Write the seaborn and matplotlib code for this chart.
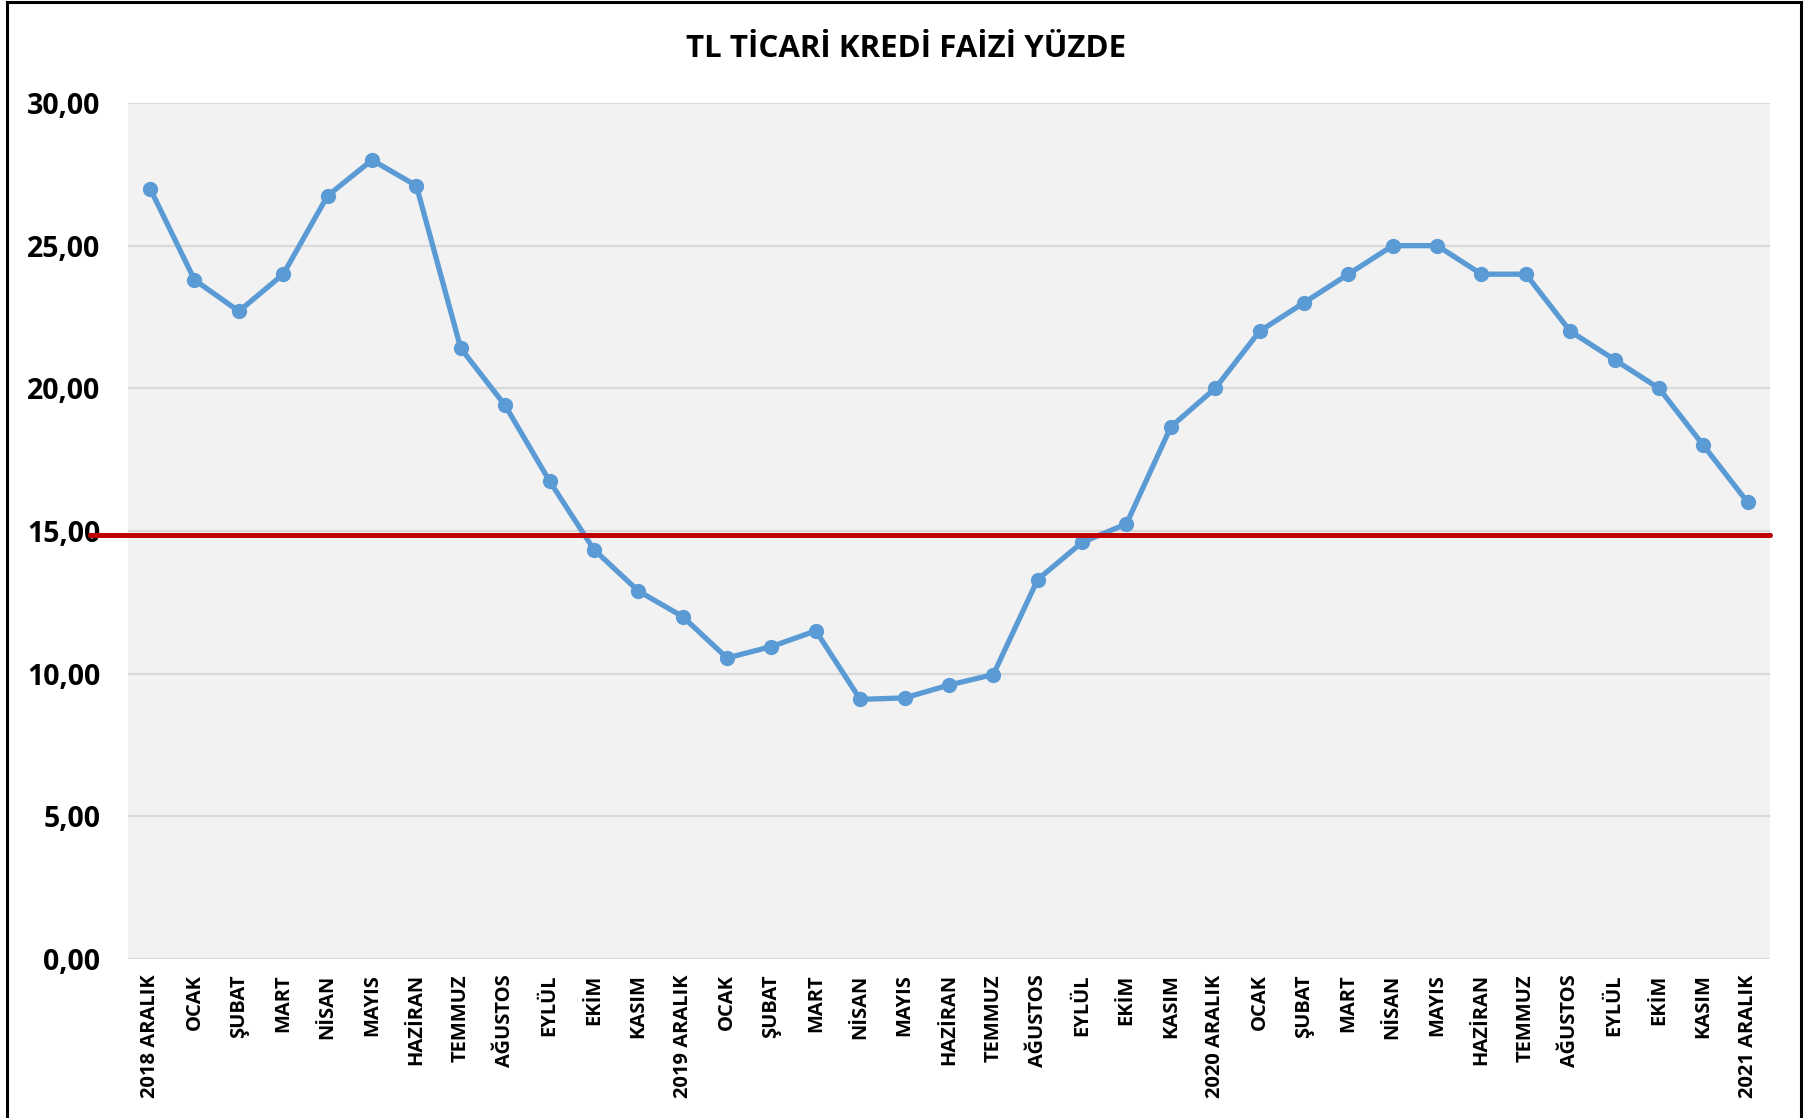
import numpy as np
import pandas as pd
import matplotlib
matplotlib.use("Agg")
import matplotlib.pyplot as plt
import matplotlib.ticker as mticker
from matplotlib.patches import Rectangle
import seaborn as sns

# Veriler
months = ["2018 ARALIK", "OCAK", "ŞUBAT", "MART", "NİSAN", "MAYIS", "HAZİRAN", "TEMMUZ",
          "AĞUSTOS", "EYLÜL", "EKİM", "KASIM",
          "2019 ARALIK", "OCAK", "ŞUBAT", "MART", "NİSAN", "MAYIS", "HAZİRAN", "TEMMUZ",
          "AĞUSTOS", "EYLÜL", "EKİM", "KASIM",
          "2020 ARALIK", "OCAK", "ŞUBAT", "MART", "NİSAN", "MAYIS", "HAZİRAN", "TEMMUZ",
          "AĞUSTOS", "EYLÜL", "EKİM", "KASIM",
          "2021 ARALIK"]
rates = [27.0, 23.8, 22.7, 24.0, 26.75, 28.0, 27.1, 21.4, 19.4, 16.75, 14.35, 12.9,
         12.0, 10.55, 10.95, 11.5, 9.1, 9.15, 9.6, 9.97, 13.3, 14.6, 15.25, 18.65,
         20.0, 22.0, 23.0, 24.0, 25.0, 25.0, 24.0, 24.0, 22.0, 21.0, 20.0, 18.0,
         16.0]
ref_level = 14.87
y_ticks = [0, 5, 10, 15, 20, 25, 30]

df = pd.DataFrame({"pos": np.arange(len(months)), "rate": rates})

sns.set_style("white")
plt.rcParams["font.family"] = ["Open Sans", "DejaVu Sans"]
plt.rcParams["text.color"] = "black"
plt.rcParams["xtick.color"] = "black"
plt.rcParams["ytick.color"] = "black"

fig = plt.figure(figsize=(18.12, 11.18), dpi=100)
ax = fig.add_axes([0.0706, 0.1422, 0.9062, 0.7657])
ax.set_facecolor("#F2F2F2")

# Izgara
for t in y_ticks:
    ax.axhline(t, color="#D9D9D9", lw=1.6, zorder=1)

sns.lineplot(data=df, x="pos", y="rate", ax=ax, color="#5B9BD5", lw=3.8,
             marker="o", markersize=11, markeredgewidth=0, zorder=3)

# Kırmızı referans çizgisi
ax.axhline(ref_level, xmin=-0.023, xmax=1.0, color="#C00000", lw=3.6,
           clip_on=False, zorder=4)

ax.set_xlim(-0.5, len(months) - 0.5)
ax.set_ylim(0, 30)
ax.set_yticks(y_ticks)
ax.yaxis.set_major_formatter(mticker.FuncFormatter(lambda v, p: f"{v:.2f}".replace(".", ",")))
ax.set_xticks(df["pos"])
ax.set_xticklabels(months, rotation=90, fontsize=14.5, fontweight="bold", color="black")
ax.tick_params(axis="y", labelsize=20.5, length=0, pad=20, labelcolor="black")
ax.tick_params(axis="x", length=0, pad=11, labelcolor="black")
for lbl in ax.get_yticklabels():
    lbl.set_fontweight("bold")
ax.set_xlabel("")
ax.set_ylabel("")
for s in ax.spines.values():
    s.set_visible(False)

fig.text(0.5, 1 - 49 / 1118, "TL TİCARİ KREDİ FAİZİ YÜZDE", ha="center", va="center",
         fontsize=22.5, fontweight="bold", color="black")

# Çerçeve
fig.patches.append(Rectangle((7 / 1812, -0.05), (1801 - 7) / 1812, 1.05 - 1.5 / 1118,
                             transform=fig.transFigure, fill=False, edgecolor="black",
                             lw=2.2, zorder=10))

fig.savefig("out.png", dpi=100)
